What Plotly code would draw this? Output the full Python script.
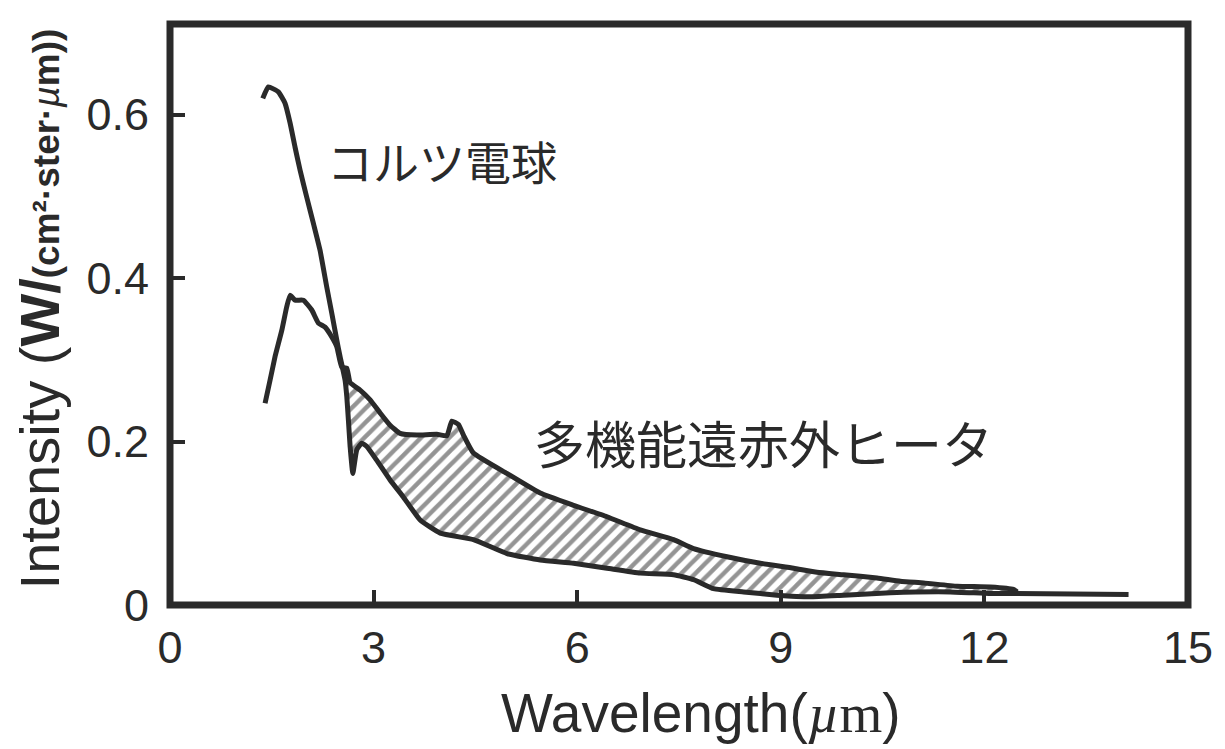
import plotly.graph_objects as go

# ---- data ----
bulb_x = [1.367, 1.449, 1.597, 1.695, 1.769, 1.843, 1.917, 2.015, 2.113, 2.211, 2.310, 2.384,
          2.458, 2.506, 2.580, 2.605, 2.629, 2.654, 2.694, 2.752, 2.826, 2.900, 3.047, 3.243,
          3.440, 3.686, 3.981, 4.471, 4.964, 5.455, 5.946, 6.438, 6.929, 7.420, 7.715, 8.010,
          8.452, 8.944, 9.435, 9.926, 10.615, 11.499, 12.089, 12.483, 14.124]
bulb_y = [0.620, 0.634, 0.628, 0.614, 0.590, 0.560, 0.532, 0.499, 0.467, 0.434, 0.389, 0.357,
          0.324, 0.304, 0.275, 0.255, 0.226, 0.194, 0.161, 0.190, 0.198, 0.194, 0.177, 0.153,
          0.132, 0.104, 0.088, 0.080, 0.063, 0.055, 0.051, 0.045, 0.039, 0.037, 0.031, 0.020,
          0.016, 0.012, 0.010, 0.012, 0.015, 0.016, 0.014, 0.014, 0.013]

heater_x = [1.401, 1.474, 1.548, 1.647, 1.720, 1.769, 1.843, 1.965, 2.089, 2.186, 2.285, 2.384,
            2.458, 2.531, 2.605, 2.654, 2.801, 2.949, 3.096, 3.243, 3.391, 3.637, 3.932, 4.079,
            4.153, 4.250, 4.324, 4.471, 4.964, 5.455, 5.946, 6.438, 6.929, 7.420, 7.715, 8.207,
            8.698, 9.189, 9.534, 9.926, 10.419, 10.762, 11.106, 11.598, 12.089, 12.428, 12.483]
heater_y = [0.247, 0.275, 0.304, 0.336, 0.365, 0.379, 0.373, 0.373, 0.361, 0.345, 0.340, 0.328,
            0.316, 0.291, 0.290, 0.272, 0.263, 0.251, 0.235, 0.220, 0.210, 0.208, 0.209, 0.207,
            0.225, 0.221, 0.208, 0.186, 0.161, 0.137, 0.122, 0.108, 0.092, 0.080, 0.069, 0.059,
            0.051, 0.045, 0.040, 0.037, 0.033, 0.029, 0.027, 0.023, 0.022, 0.019, 0.016]

x_ticks = [0, 3, 6, 9, 12, 15]
y_ticks = [0, 0.2, 0.4, 0.6]
y_tick_labels = ["0", "0.2", "0.4", "0.6"]

label_bulb = "コルツ電球"
label_heater = "多機能遠赤外ヒータ"

INK = "#2a2a2a"
FONT = "Liberation Sans, Arial, sans-serif"

# hatched region: heater above bulb between the crossing and the end of the heater curve
x_lo, x_hi = 2.52, 12.5
hx = [x for x in heater_x if x_lo <= x <= x_hi]
hy = [y for x, y in zip(heater_x, heater_y) if x_lo <= x <= x_hi]
bx = [x for x in bulb_x if 2.55 <= x <= x_hi]
by = [y for x, y in zip(bulb_x, bulb_y) if 2.55 <= x <= x_hi]
poly_x = hx + bx[::-1]
poly_y = hy + by[::-1]

fig = go.Figure()
fig.add_trace(go.Scatter(
    x=poly_x, y=poly_y, mode="none", fill="toself",
    fillcolor="rgba(0,0,0,0)",
    fillpattern=dict(shape="/", fgcolor=INK, bgcolor="white", size=10, solidity=0.45),
    hoverinfo="skip", showlegend=False))
fig.add_trace(go.Scatter(x=bulb_x, y=bulb_y, mode="lines",
                         line=dict(color=INK, width=5, shape="spline", smoothing=0.4),
                         showlegend=False, name=label_bulb))
fig.add_trace(go.Scatter(x=heater_x, y=heater_y, mode="lines",
                         line=dict(color=INK, width=5, shape="spline", smoothing=0.4),
                         showlegend=False, name=label_heater))

fig.add_annotation(x=2.28, y=0.545, xref="x", yref="y", text=label_bulb,
                   showarrow=False, xanchor="left", yanchor="middle",
                   font=dict(family="Noto Sans CJK JP", size=46, color=INK))
fig.add_annotation(x=5.33, y=0.199, xref="x", yref="y", text=label_heater,
                   showarrow=False, xanchor="left", yanchor="middle",
                   font=dict(family="Noto Sans CJK JP", size=51, color=INK))

# axis titles
fig.add_annotation(x=0.522, y=-0.186, xref="paper", yref="paper",
                   text="Wavelength(<span style='font-family:Liberation Serif'><i>µ</i>m</span>)",
                   showarrow=False, xanchor="center", yanchor="middle",
                   font=dict(family=FONT, size=55, color=INK))
fig.add_annotation(x=-0.128, y=0.51, xref="paper", yref="paper", textangle=-90,
                   text="Intensity (<b>W/</b><span style='font-size:37px'><b>(cm²·ster·</b><i>µ</i><b>m))</b></span>",
                   showarrow=False, xanchor="center", yanchor="middle",
                   font=dict(family=FONT, size=56, color=INK))

fig.add_shape(type="rect", xref="paper", yref="paper", x0=0, x1=1, y0=0, y1=1,
              line=dict(color=INK, width=7), layer="above")

fig.update_xaxes(range=[0, 15], tickvals=x_ticks, ticktext=[str(t) for t in x_ticks],
                 ticks="inside", ticklen=15, tickwidth=3.5, tickcolor=INK,
                 showgrid=False, zeroline=False, showline=False, ticklabelstandoff=12,
                 tickfont=dict(family=FONT, size=45, color=INK))
fig.update_yaxes(range=[0, 0.711], tickvals=y_ticks, ticktext=y_tick_labels,
                 ticks="inside", ticklen=15, tickwidth=3.5, tickcolor=INK,
                 showgrid=False, zeroline=False, showline=False, ticklabelstandoff=20,
                 tickfont=dict(family=FONT, size=45, color=INK))

fig.update_layout(width=1225, height=749,
                  margin=dict(l=170, r=37, t=24, b=144),
                  paper_bgcolor="white", plot_bgcolor="white")

fig.write_html("out.html")
